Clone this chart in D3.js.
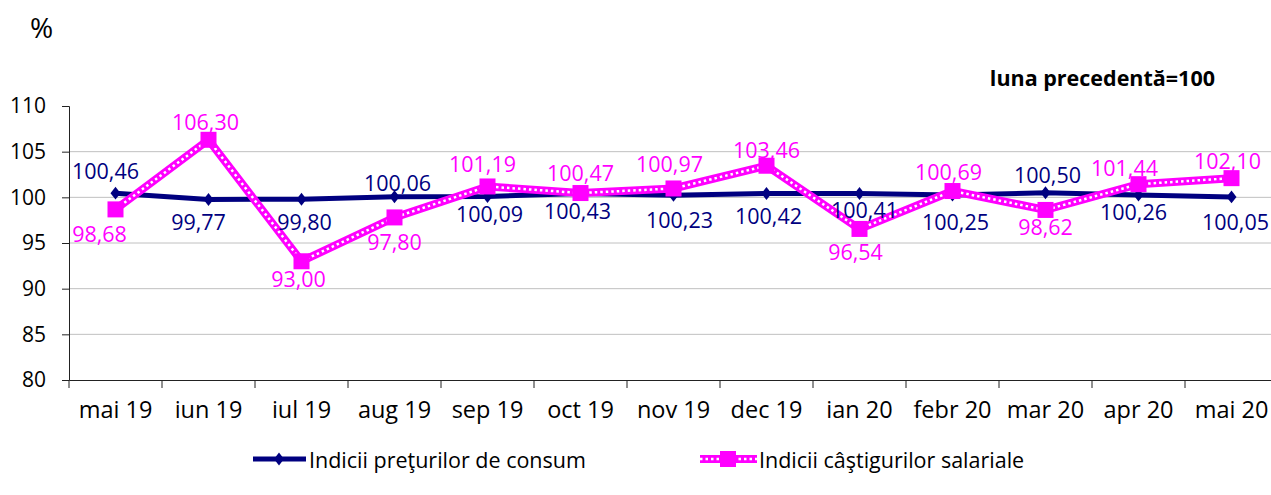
<!DOCTYPE html>
<html>
<head>
<meta charset="utf-8">
<script src="https://cdn.jsdelivr.net/npm/d3@7"></script>
<style>
  body { margin: 0; background: #fff; }
  svg text { font-family: "Open Sans", "Noto Sans", sans-serif; }
</style>
</head>
<body>
<div id="chart"></div>
<script>
// Chart data
var months = ["mai 19", "iun 19", "iul 19", "aug 19", "sep 19", "oct 19", "nov 19",
              "dec 19", "ian 20", "febr 20", "mar 20", "apr 20", "mai 20"];
var cpiValues = [100.46, 99.77, 99.80, 100.06, 100.09, 100.43, 100.23,
                 100.42, 100.41, 100.25, 100.50, 100.26, 100.05];
var wageValues = [98.68, 106.30, 93.00, 97.80, 101.19, 100.47, 100.97,
                  103.46, 96.54, 100.69, 98.62, 101.44, 102.10];
var yTicks = [80, 85, 90, 95, 100, 105, 110];
var seriesNames = ["Indicii preţurilor de consum", "Indicii câştigurilor salariale"];

// Label placement (offset of label centre from its point)
var cpiLabelOffsets = [[-10, -23], [-10, 22], [3, 22], [3, -14], [2, 17], [-3, 17], [6, 24],
                       [2, 22], [5, 16], [3, 26], [2, -18], [-5, 17], [4, 25]];
var wageLabelOffsets = [[-16, 24], [-3, -18], [-3, 17], [0, 24], [-5, -23], [0, -21], [-4, -25],
                        [0, -16], [-4, 23], [-4, -20], [0, 17], [-14, -17], [-4, -18]];

function init() {
    var w = 1271, h = 495;
    var blue = "#000080", pink = "#ff00ff";

    var svg = d3.select("#chart").append("svg")
        .attr("width", w).attr("height", h);

    var x = d3.scaleBand().domain(months).range([69, 1278]);
    var y = d3.scaleLinear().domain([80, 110]).range([380, 106]);
    var cx = function(i) { return x(months[i]) + x.bandwidth() / 2; };
    var fmt = function(v) { return d3.format(".2f")(v).replace(".", ","); };

    // gridlines (not at the top value)
    svg.append("g").selectAll("line")
        .data(yTicks.filter(function(t) { return t > 80 && t < 110; }))
        .enter().append("line")
        .attr("x1", 69).attr("x2", w)
        .attr("y1", function(d) { return y(d); })
        .attr("y2", function(d) { return y(d); })
        .attr("stroke", "#c0c0c0").attr("stroke-width", 1);

    // y axis
    var yAxis = svg.append("g")
        .attr("transform", "translate(69,0)")
        .call(d3.axisLeft(y).tickValues(yTicks).tickSize(7).tickPadding(16).tickFormat(d3.format("d")));
    yAxis.select(".domain").attr("stroke", "#222");
    yAxis.selectAll(".tick line").attr("stroke", "#222");
    yAxis.selectAll("text").attr("font-size", 21).attr("fill", "#000")
        .style("font-family", "'Open Sans', sans-serif");

    // x axis
    var xAxis = svg.append("g")
        .attr("transform", "translate(0,380)")
        .call(d3.axisBottom(x).tickSize(0).tickPadding(21));
    xAxis.select(".domain").attr("stroke", "#222");
    xAxis.selectAll("text").attr("font-size", 23.5).attr("fill", "#000")
        .style("font-family", "'Open Sans', sans-serif");
    // band boundary ticks
    svg.append("g").selectAll("line")
        .data(months)
        .enter().append("line")
        .attr("x1", function(d) { return x(d); })
        .attr("x2", function(d) { return x(d); })
        .attr("y1", 380).attr("y2", 388)
        .attr("stroke", "#222");

    var line = d3.line()
        .x(function(d, i) { return cx(i); })
        .y(function(d) { return y(d); });

    // CPI series
    svg.append("path").datum(cpiValues)
        .attr("d", line).attr("fill", "none")
        .attr("stroke", blue).attr("stroke-width", 5);
    svg.append("g").selectAll("path")
        .data(cpiValues).enter().append("path")
        .attr("d", d3.symbol().type(d3.symbolDiamond).size(60))
        .attr("transform", function(d, i) { return "translate(" + cx(i) + "," + y(d) + ") scale(1.2,0.9)"; })
        .attr("fill", blue);

    // wage series: magenta line with white dotted core
    svg.append("path").datum(wageValues)
        .attr("d", line).attr("fill", "none")
        .attr("stroke", pink).attr("stroke-width", 8);
    svg.append("path").datum(wageValues)
        .attr("d", line).attr("fill", "none")
        .attr("stroke", "#fff").attr("stroke-width", 2.5)
        .attr("stroke-dasharray", "2.5,3");
    svg.append("g").selectAll("rect")
        .data(wageValues).enter().append("rect")
        .attr("x", function(d, i) { return cx(i) - 8; })
        .attr("y", function(d) { return y(d) - 8; })
        .attr("width", 16).attr("height", 16)
        .attr("fill", pink);

    // data labels
    svg.append("g").selectAll("text")
        .data(cpiValues).enter().append("text")
        .attr("x", function(d, i) { return cx(i) + cpiLabelOffsets[i][0]; })
        .attr("y", function(d, i) { return y(d) + cpiLabelOffsets[i][1]; })
        .attr("text-anchor", "middle").attr("dominant-baseline", "central")
        .attr("font-size", 21.5).attr("fill", blue)
        .text(fmt);
    svg.append("g").selectAll("text")
        .data(wageValues).enter().append("text")
        .attr("x", function(d, i) { return cx(i) + wageLabelOffsets[i][0]; })
        .attr("y", function(d, i) { return y(d) + wageLabelOffsets[i][1]; })
        .attr("text-anchor", "middle").attr("dominant-baseline", "central")
        .attr("font-size", 21.5).attr("fill", pink)
        .text(fmt);

    // titles
    svg.append("text").attr("x", 30).attr("y", 27)
        .attr("dominant-baseline", "central")
        .attr("font-size", 28).text("%");
    svg.append("text").attr("x", 1215).attr("y", 77)
        .attr("text-anchor", "end").attr("dominant-baseline", "central")
        .attr("font-size", 21.5).attr("font-weight", "bold").text("luna precedentă=100");

    // legend
    var lg = svg.append("g");
    lg.append("line").attr("x1", 253).attr("x2", 306).attr("y1", 459).attr("y2", 459)
        .attr("stroke", blue).attr("stroke-width", 5);
    lg.append("path")
        .attr("d", d3.symbol().type(d3.symbolDiamond).size(60))
        .attr("transform", "translate(279,459) scale(1.2,0.9)")
        .attr("fill", blue);
    lg.append("text").attr("x", 309).attr("y", 459)
        .attr("dominant-baseline", "central").attr("font-size", 21.5)
        .text(seriesNames[0]);

    lg.append("line").attr("x1", 700).attr("x2", 757).attr("y1", 459).attr("y2", 459)
        .attr("stroke", pink).attr("stroke-width", 8);
    lg.append("line").attr("x1", 700).attr("x2", 757).attr("y1", 459).attr("y2", 459)
        .attr("stroke", "#fff").attr("stroke-width", 2.5).attr("stroke-dasharray", "2.5,3");
    lg.append("rect").attr("x", 720).attr("y", 451).attr("width", 16).attr("height", 16)
        .attr("fill", pink);
    lg.append("text").attr("x", 759).attr("y", 459)
        .attr("dominant-baseline", "central").attr("font-size", 21.5)
        .text(seriesNames[1]);
}

window.onload = init;
</script>
</body>
</html>
